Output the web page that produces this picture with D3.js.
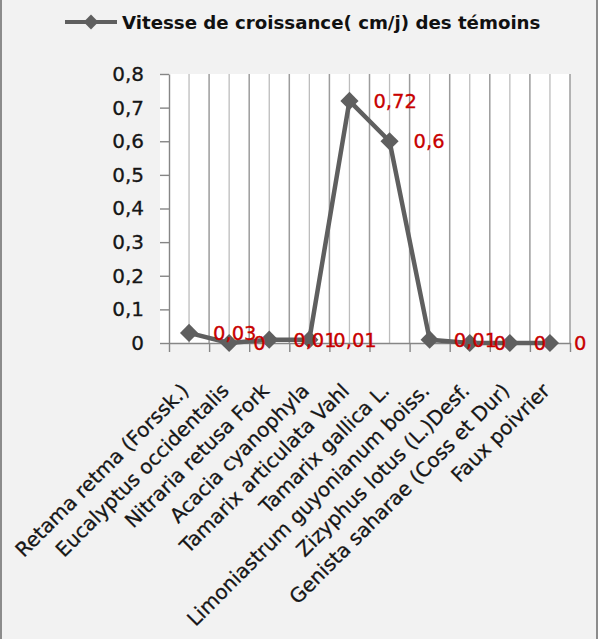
<!DOCTYPE html>
<html>
<head>
<meta charset="utf-8">
<script src="https://cdn.jsdelivr.net/npm/d3@7"></script>
<style>
  html, body { margin: 0; padding: 0; background: #ffffff; }
  svg { display: block; }
</style>
</head>
<body>
<svg id="chart" width="599" height="639"></svg>
<script>
// Growth speed of the control plants, one value per species
const categories = [
  "Retama retma (Forssk.)",
  "Eucalyptus occidentalis",
  "Nitraria retusa Fork",
  "Acacia cyanophyla",
  "Tamarix articulata Vahl",
  "Tamarix gallica L.",
  "Limoniastrum guyonianum boiss.",
  "Zizyphus lotus (L.)Desf.",
  "Genista saharae (Coss et Dur)",
  "Faux poivrier"
];
const values = [0.03, 0, 0.01, 0.01, 0.72, 0.6, 0.01, 0, 0, 0];
const yTicks = [0, 0.1, 0.2, 0.3, 0.4, 0.5, 0.6, 0.7, 0.8];
const seriesName = "Vitesse de croissance( cm/j) des témoins";

const frLocale = d3.formatLocale({ decimal: ",", thousands: " ", grouping: [3], currency: ["", " €"] });
const fmt = frLocale.format("~g");

const svg = d3.select("#chart");
const H = 639;
const plot = { left: 169, right: 570, top: 74, bottom: 343 };

const lineColor = "#5f5f5f";
const labelColor = "#c80000";
const textColor = "#161616";
const font = "'DejaVu Sans', sans-serif";

// chart area background and frame
svg.append("rect").attr("x", 0).attr("y", 0).attr("width", 598).attr("height", H).attr("fill", "#f2f2f2");
svg.append("line").attr("x1", 1).attr("x2", 1).attr("y1", 0).attr("y2", H).attr("stroke", "#8c8c8c").attr("stroke-width", 2);
svg.append("line").attr("x1", 597).attr("x2", 597).attr("y1", 0).attr("y2", H).attr("stroke", "#8c8c8c").attr("stroke-width", 2);

const x = d3.scaleBand().domain(categories).range([plot.left, plot.right]).padding(0);
const y = d3.scaleLinear().domain([0, 0.8]).range([plot.bottom, plot.top]);
const cx = d => x(d) + x.bandwidth() / 2;

// plot area
svg.append("rect")
  .attr("x", plot.left - 9).attr("y", plot.top)
  .attr("width", plot.right - plot.left + 9).attr("height", plot.bottom - plot.top)
  .attr("fill", "#ffffff");

// vertical gridlines: minor at category centres, major at category boundaries
const grid = svg.append("g");
grid.selectAll("line.minor").data(categories).join("line")
  .attr("class", "minor")
  .attr("x1", d => cx(d)).attr("x2", d => cx(d))
  .attr("y1", plot.top).attr("y2", plot.bottom)
  .attr("stroke", "#bdbdbd").attr("stroke-width", 1.3);
const bounds = categories.slice(1).map(d => x(d)).concat([plot.right]);
grid.selectAll("line.major").data(bounds).join("line")
  .attr("class", "major")
  .attr("x1", d => d).attr("x2", d => d)
  .attr("y1", plot.top).attr("y2", plot.bottom)
  .attr("stroke", "#9c9c9c").attr("stroke-width", 1.5);

// y axis
const yAxis = svg.append("g")
  .attr("transform", `translate(${plot.left},0)`)
  .call(d3.axisLeft(y).tickValues(yTicks).tickFormat(fmt).tickSize(9).tickSizeOuter(0).tickPadding(16));
yAxis.select(".domain").attr("stroke", "#868686").attr("stroke-width", 1.4);
yAxis.selectAll(".tick line").attr("stroke", "#868686").attr("stroke-width", 1.4);
yAxis.selectAll(".tick text")
  .attr("font-family", font).attr("font-size", 20).attr("fill", textColor)
  .attr("stroke", textColor).attr("stroke-width", 0.3);

// x axis: ticks at category boundaries
const xb = d3.scaleLinear().domain([0, categories.length]).range([plot.left, plot.right]);
const xAxis = svg.append("g")
  .attr("transform", `translate(0,${plot.bottom})`)
  .call(d3.axisBottom(xb).tickValues(d3.range(categories.length + 1)).tickFormat("").tickSize(9).tickSizeOuter(0));
xAxis.select(".domain").attr("stroke", "#868686").attr("stroke-width", 1.4);
xAxis.selectAll(".tick line").attr("stroke", "#868686").attr("stroke-width", 1.4);

// rotated category labels
svg.append("g").selectAll("text").data(categories).join("text")
  .attr("transform", d => `translate(${cx(d) + 1},${392}) rotate(-45)`)
  .attr("text-anchor", "end")
  .attr("font-family", font).attr("font-size", 20).attr("fill", textColor)
  .attr("stroke", textColor).attr("stroke-width", 0.3)
  .text(d => d);

// series line
const pts = categories.map((c, i) => ({ c, v: values[i] }));
svg.append("path")
  .datum(pts)
  .attr("fill", "none")
  .attr("stroke", lineColor).attr("stroke-width", 4.5).attr("stroke-linejoin", "round")
  .attr("d", d3.line().x(d => cx(d.c)).y(d => y(d.v)));

// diamond markers
const diamond = d3.symbol().type(d3.symbolSquare).size(165);
svg.append("g").selectAll("path").data(pts).join("path")
  .attr("transform", d => `translate(${cx(d.c)},${y(d.v)}) rotate(45)`)
  .attr("d", diamond)
  .attr("fill", lineColor);

// value labels to the right of each point
svg.append("g").selectAll("text").data(pts).join("text")
  .attr("x", d => cx(d.c) + 24)
  .attr("y", d => y(d.v))
  .attr("dy", "0.36em")
  .attr("font-family", font).attr("font-size", 19.5).attr("fill", labelColor)
  .attr("stroke", labelColor).attr("stroke-width", 0.3)
  .text(d => fmt(d.v));

// legend
const lg = svg.append("g");
lg.append("line").attr("x1", 65).attr("x2", 117).attr("y1", 22).attr("y2", 22)
  .attr("stroke", lineColor).attr("stroke-width", 4);
lg.append("path").attr("transform", "translate(91,22) rotate(45)")
  .attr("d", d3.symbol().type(d3.symbolSquare).size(110)).attr("fill", lineColor);
lg.append("text").attr("x", 122).attr("y", 28.5)
  .attr("font-family", font).attr("font-weight", "bold").attr("font-size", 18.2).attr("fill", "#111")
  .text(seriesName);
</script>
</body>
</html>
